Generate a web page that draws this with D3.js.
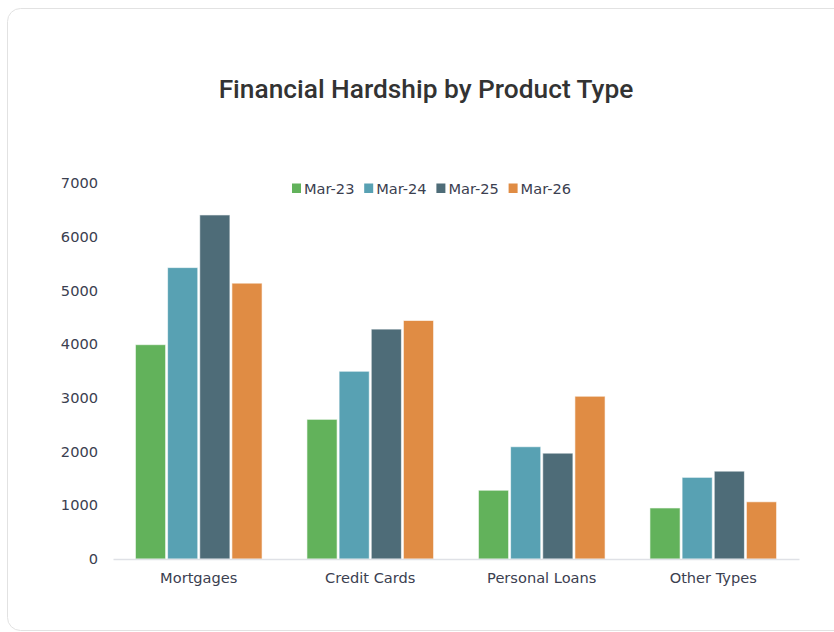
<html>
<head>
<meta charset="utf-8">
<script src="https://d3js.org/d3.v7.min.js"></script>
<style>
  body { margin: 0; background: #fff; }
</style>
</head>
<body>
<div id="chart"></div>
<script>
// data
var categories = ["Mortgages", "Credit Cards", "Personal Loans", "Other Types"];
var seriesNames = ["Mar-23", "Mar-24", "Mar-25", "Mar-26"];
var mar23 = [3990, 2600, 1280, 950];
var mar24 = [5425, 3495, 2090, 1520];
var mar25 = [6405, 4280, 1970, 1635];
var mar26 = [5135, 4440, 3030, 1065];
var yTicks = [0, 1000, 2000, 3000, 4000, 5000, 6000, 7000];
var colors = ["#62b25b", "#58a1b3", "#4e6c78", "#e08c44"];

var series = [mar23, mar24, mar25, mar26];

var W = 834, H = 632;
var margin = {left: 113, right: 35, top: 183, bottom: 73};

var svg = d3.select("#chart").append("svg")
    .attr("width", W).attr("height", H);

// card
svg.append("rect")
    .attr("x", 7.5).attr("y", 8.5)
    .attr("width", 840).attr("height", 622)
    .attr("rx", 13)
    .attr("fill", "#fff")
    .attr("stroke", "#e2e2e2");

svg.append("text")
    .attr("x", 426).attr("y", 98)
    .attr("text-anchor", "middle")
    .style("font-family", "Roboto")
    .style("font-weight", 500)
    .style("font-size", "26.3px")
    .style("fill", "#333")
    .text("Financial Hardship by Product Type");

var x0 = d3.scaleBand()
    .domain(categories)
    .range([margin.left, W - margin.right])
    .paddingInner(0.25).paddingOuter(0.125);

var x1 = d3.scaleBand()
    .domain(seriesNames)
    .range([0, x0.bandwidth()])
    .padding(0);

var y = d3.scaleLinear()
    .domain([0, 7000])
    .range([H - margin.bottom, margin.top]);

var g = svg.append("g");

categories.forEach(function(c, i) {
  g.selectAll(null)
    .data(series.map(function(s, k) { return {name: seriesNames[k], v: s[i], k: k}; }))
    .enter().append("rect")
      .attr("x", function(d) { return x0(c) + x1(d.name) + 1; })
      .attr("y", function(d) { return y(d.v); })
      .attr("width", x1.bandwidth() - 2)
      .attr("height", function(d) { return y(0) - y(d.v); })
      .attr("fill", function(d) { return colors[d.k]; })
      .attr("stroke", "#fff")
      .attr("stroke-opacity", 0.6)
      .attr("stroke-width", 1);
});

var labelFont = "14.6px";

// y axis labels (no line)
var yAxis = svg.append("g")
    .attr("transform", "translate(" + 98 + ",0)")
    .call(d3.axisLeft(y).tickValues(yTicks).tickFormat(d3.format("d")).tickSize(0).tickPadding(0));
yAxis.select(".domain").remove();
yAxis.selectAll("text")
    .style("font-family", "DejaVu Sans")
    .style("font-size", labelFont)
    .style("fill", "#3b4050");

// x axis
var xAxis = svg.append("g")
    .attr("transform", "translate(0," + (H - margin.bottom) + ")")
    .call(d3.axisBottom(x0).tickSize(0).tickPadding(14));
xAxis.select(".domain")
    .attr("stroke", "#dfe1e6")
    .attr("stroke-width", 1.5);
xAxis.selectAll("text")
    .style("font-family", "DejaVu Sans")
    .style("font-size", labelFont)
    .style("fill", "#3b4050");

// legend
var legend = svg.append("g");
seriesNames.forEach(function(n, k) {
  var lx = 292 + k * 72.2;
  legend.append("rect")
    .attr("x", lx).attr("y", 183.5)
    .attr("width", 9).attr("height", 9.5)
    .attr("fill", colors[k]);
  legend.append("text")
    .attr("x", lx + 12).attr("y", 193.5)
    .style("font-family", "DejaVu Sans")
    .style("font-size", labelFont)
    .style("fill", "#3b4050")
    .text(n);
});
</script>
</body>
</html>
